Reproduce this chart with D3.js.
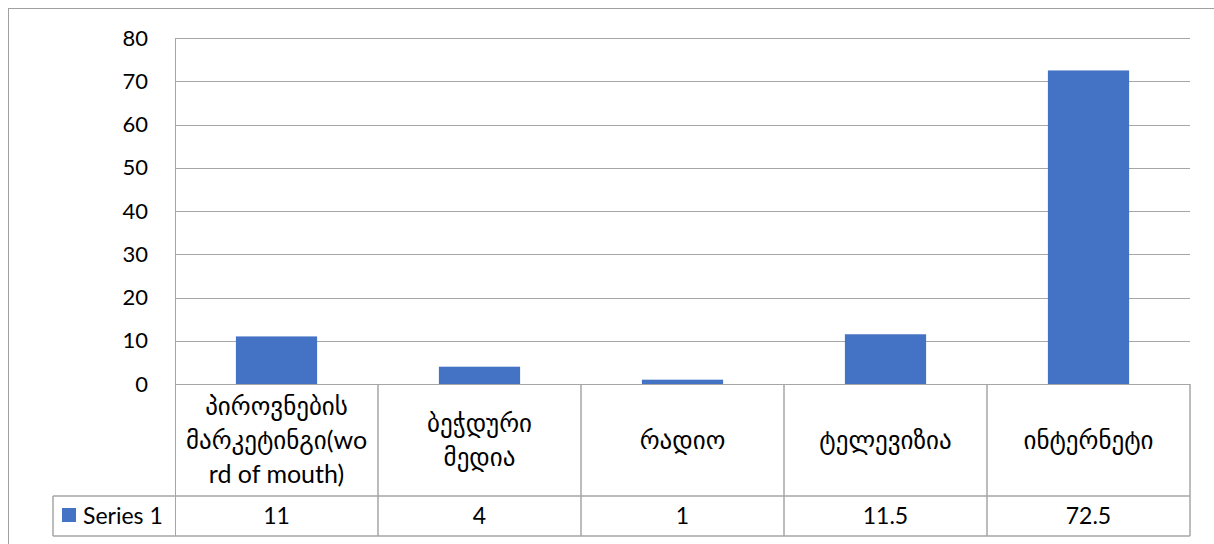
<!DOCTYPE html>
<html><head><meta charset="utf-8">
<script src="https://cdn.jsdelivr.net/npm/d3@7"></script>
<style>body{margin:0;background:#fff;}svg{display:block;font-family:Lato,"DejaVu Sans",sans-serif;}</style>
</head><body><svg id="c" width="1214" height="544"></svg>
<script>
const categories = ["პიროვნების მარკეტინგი(word of mouth)", "ბეჭდური მედია", "რადიო", "ტელევიზია", "ინტერნეტი"];
const categoryLines = [["პიროვნების", "მარკეტინგი(wo", "rd of mouth)"], ["ბეჭდური", "მედია"], ["რადიო"], ["ტელევიზია"], ["ინტერნეტი"]];
const values = [11, 4, 1, 11.5, 72.5];
const valueLabels = ["11", "4", "1", "11.5", "72.5"];
const yTicks = [0, 10, 20, 30, 40, 50, 60, 70, 80];
const seriesName = "Series 1";

const svg = d3.select("#c");
const L = 175, R = 1190, T = 38, B = 384;
const rowCat = 496, rowEnd = 536, legL = 53;
const grid = "#a6a6a6";

svg.append("rect").attr("x", 8.5).attr("y", 8.5).attr("width", 1300).attr("height", 700)
  .attr("fill", "none").attr("stroke", "#a0a0a0");

const x = d3.scaleBand().domain(categories).range([L, R]).paddingInner(0.6).paddingOuter(0.3);
const xc = d3.scaleBand().domain(categories).range([L, R]);
const y = d3.scaleLinear().domain([0, 80]).range([B, T]);

svg.append("g").selectAll("line").data(yTicks).join("line")
  .attr("x1", L).attr("x2", R).attr("y1", d => Math.round(y(d)) + 0.5).attr("y2", d => Math.round(y(d)) + 0.5)
  .attr("stroke", grid).attr("stroke-width", 1);

const yAxis = d3.axisLeft(y).tickValues(yTicks).tickSize(0).tickPadding(0);
const ga = svg.append("g").attr("transform", `translate(148,0)`).call(yAxis);
ga.select(".domain").remove();
ga.selectAll("text").attr("font-size", 22).attr("fill", "#000").attr("font-family", "Lato,'DejaVu Sans',sans-serif");

svg.append("g").selectAll("rect").data(values).join("rect")
  .attr("x", (d, i) => x(categories[i])).attr("width", x.bandwidth())
  .attr("y", d => y(d)).attr("height", d => y(0) - y(d))
  .attr("fill", "#4472C4");

// axis line
svg.append("line").attr("x1", L + 0.5).attr("x2", L + 0.5).attr("y1", T).attr("y2", rowEnd).attr("stroke", grid);
// table lines
const tg = svg.append("g").attr("stroke", grid).attr("stroke-width", 1.5);
tg.append("line").attr("x1", legL).attr("x2", R).attr("y1", rowCat).attr("y2", rowCat);
tg.append("line").attr("x1", legL).attr("x2", R).attr("y1", rowEnd).attr("y2", rowEnd);
tg.append("line").attr("x1", legL).attr("x2", legL).attr("y1", rowCat).attr("y2", rowEnd);
tg.selectAll(".v").data(categories).join("line")
  .attr("x1", d => xc(d) + xc.bandwidth()).attr("x2", d => xc(d) + xc.bandwidth())
  .attr("y1", B).attr("y2", rowEnd);

// category labels
const lh = 34;
categoryLines.forEach((lines, i) => {
  const cx = xc(categories[i]) + xc.bandwidth() / 2;
  const mid = (B + rowCat) / 2;
  const start = mid - (lines.length - 1) * lh / 2;
  lines.forEach((t, j) => {
    svg.append("text").attr("x", cx).attr("y", start + j * lh).attr("dy", "0.35em")
      .attr("text-anchor", "middle").attr("font-size", 25).attr("fill", "#000").text(t);
  });
});

// values row
svg.append("g").selectAll("text").data(valueLabels).join("text")
  .attr("x", (d, i) => xc(categories[i]) + xc.bandwidth() / 2).attr("y", (rowCat + rowEnd) / 2).attr("dy", "0.35em")
  .attr("text-anchor", "middle").attr("font-size", 23).attr("fill", "#000").text(d => d);

// legend key
svg.append("rect").attr("x", 62).attr("y", 508).attr("width", 14).attr("height", 14).attr("fill", "#4472C4");
svg.append("text").attr("x", 83).attr("y", (rowCat + rowEnd) / 2).attr("dy", "0.35em")
  .attr("font-size", 23).attr("fill", "#000").text(seriesName);
</script></body></html>
